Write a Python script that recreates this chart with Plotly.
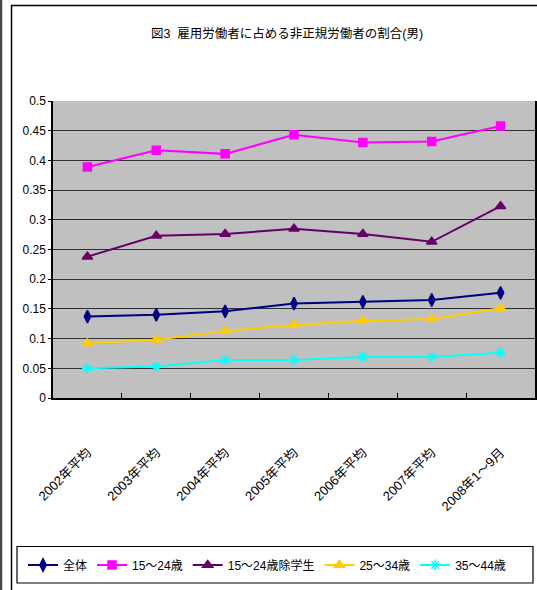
import plotly.graph_objects as go

categories = ["2002年平均", "2003年平均", "2004年平均", "2005年平均", "2006年平均", "2007年平均", "2008年1～9月"]
zentai = [0.137, 0.140, 0.146, 0.159, 0.162, 0.165, 0.177]
age15_24 = [0.389, 0.417, 0.411, 0.443, 0.430, 0.432, 0.458]
age15_24_nostudent = [0.238, 0.273, 0.276, 0.285, 0.276, 0.263, 0.323]
age25_34 = [0.092, 0.098, 0.113, 0.123, 0.130, 0.133, 0.151]
age35_44 = [0.050, 0.053, 0.064, 0.064, 0.069, 0.069, 0.076]
y_ticks = [0, 0.05, 0.1, 0.15, 0.2, 0.25, 0.3, 0.35, 0.4, 0.45, 0.5]
y_tick_labels = ["0", "0.05", "0.1", "0.15", "0.2", "0.25", "0.3", "0.35", "0.4", "0.45", "0.5"]

FONT = "Liberation Sans, Noto Sans CJK JP, sans-serif"

series = [
    ("全体", zentai, "#000080", "diamond-tall", 9),
    ("15～24歳", age15_24, "#FF00FF", "square", 8),
    ("15～24歳除学生", age15_24_nostudent, "#660066", "triangle-up", 9),
    ("25～34歳", age25_34, "#FFCC00", "triangle-up", 9),
    ("35～44歳", age35_44, "#00FFFF", "asterisk-open", 9),
]

fig = go.Figure()
for name, vals, color, sym, size in series:
    fig.add_trace(go.Scatter(
        x=categories, y=vals, name=name, mode="lines+markers",
        line=dict(color=color, width=2),
        marker=dict(symbol=sym, size=size, color=color,
                    line=dict(color=color, width=1.5)),
    ))

L, R, T, B = 53, 2, 101, 192
W, H = 537, 590
pw = W - L - R
ph = H - T - B

def px_x(v):
    return (v - L) / pw

def px_y(v):
    return (H - B - v) / ph

fig.update_layout(
    width=W, height=H,
    margin=dict(l=L, r=R, t=T, b=B, autoexpand=False),
    paper_bgcolor="white",
    plot_bgcolor="#C0C0C0",
    font=dict(family=FONT, size=13, color="black"),
    title=dict(text="図3  雇用労働者に占める非正規労働者の割合(男)",
               x=287 / W, xref="container", xanchor="center",
               y=1 - 34 / H, yref="container", yanchor="middle",
               font=dict(family=FONT, size=12.5, color="black")),
    showlegend=True,
    legend=dict(orientation="h", xref="paper", yref="paper",
                x=px_x(23), xanchor="left",
                y=px_y(565), yanchor="middle",
                borderwidth=0, bgcolor="rgba(0,0,0,0)",
                font=dict(family=FONT, size=12), itemwidth=30,
                tracegroupgap=0),
    xaxis=dict(
        type="category", range=[-0.5, 6.5],
        showgrid=False, showline=True, linecolor="black", linewidth=1.5,
        ticks="inside", ticklen=5, tickcolor="black", tickson="boundaries",
        tickangle=-45, ticklabelstandoff=40,
        tickfont=dict(family=FONT, size=13),
        zeroline=False, automargin=False,
    ),
    yaxis=dict(
        range=[0, 0.5], tickvals=y_ticks, ticktext=y_tick_labels,
        showgrid=True, gridcolor="#303030", gridwidth=1,
        showline=True, linecolor="black", linewidth=1.5, mirror=True,
        ticks="outside", ticklen=3, tickcolor="black",
        tickfont=dict(family=FONT, size=12),
        zeroline=False, automargin=False,
    ),
    shapes=[
        dict(type="line", xref="paper", yref="paper",
             x0=px_x(11), x1=px_x(540), y0=px_y(5.5), y1=px_y(5.5),
             line=dict(color="black", width=1.5)),
        dict(type="line", xref="paper", yref="paper",
             x0=px_x(11.5), x1=px_x(11.5), y0=px_y(5), y1=px_y(592),
             line=dict(color="black", width=1.5)),
        dict(type="line", xref="paper", yref="paper",
             x0=px_x(1), x1=px_x(1), y0=px_y(-2), y1=px_y(592),
             line=dict(color="#444444", width=2.5)),
        dict(type="rect", xref="paper", yref="paper",
             x0=px_x(17), x1=px_x(533), y0=px_y(546.5), y1=px_y(583),
             line=dict(color="black", width=1.2), fillcolor="rgba(0,0,0,0)"),
    ],
)

fig.write_html("out.html",
               config={"displayModeBar": False},
               post_script="document.body.style.margin='0';document.body.style.overflow='hidden';")
